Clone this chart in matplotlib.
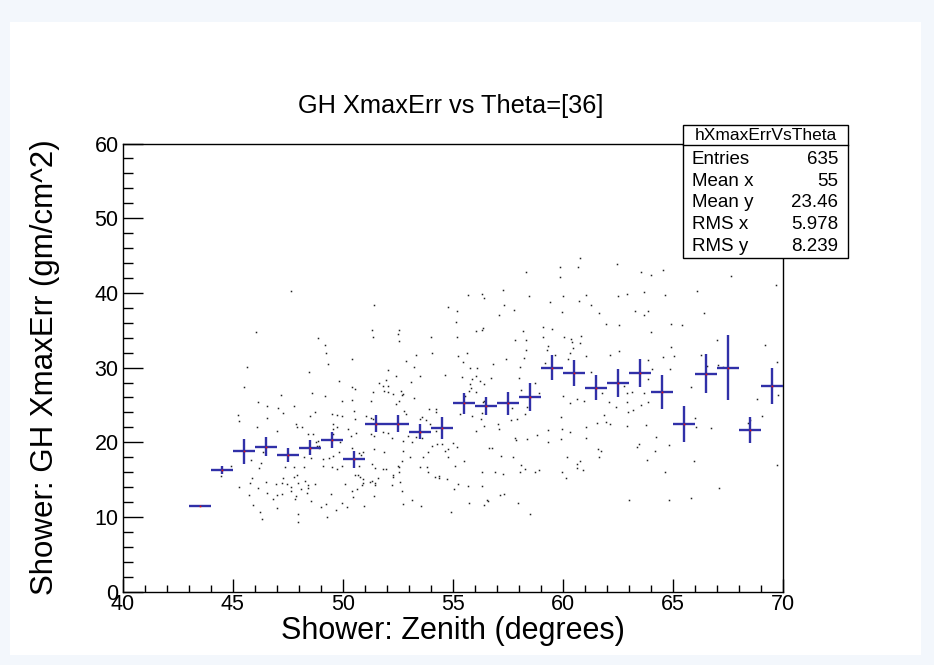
import matplotlib
matplotlib.use("Agg")
import matplotlib.pyplot as plt
from matplotlib.patches import Rectangle
from matplotlib.lines import Line2D
from matplotlib.ticker import MultipleLocator

plt.rcParams['font.family'] = ['Liberation Sans', 'DejaVu Sans']

# ---------------- data ----------------
title = "GH XmaxErr vs Theta=[36]"
xlabel = "Shower: Zenith (degrees)"
ylabel = "Shower: GH XmaxErr (gm/cm^2)"

prof_x = [43.5, 44.5, 45.5, 46.5, 47.5, 48.5, 49.5, 50.5, 51.5, 52.5, 53.5, 54.5, 55.5, 56.5,
          57.5, 58.5, 59.5, 60.5, 61.5, 62.5, 63.5, 64.5, 65.5, 66.5, 67.5, 68.5, 69.5]
prof_y = [11.5, 16.3, 18.8, 19.4, 18.3, 19.25, 20.3, 17.7, 22.5, 22.5, 21.4, 21.9, 25.2, 24.8,
          25.2, 26.1, 30.0, 29.3, 27.3, 27.9, 29.25, 26.7, 22.5, 29.2, 30.0, 21.65, 27.5]
prof_err = [0.0, 0.5, 1.7, 1.3, 1.0, 1.0, 1.1, 1.15, 1.1, 1.1, 1.0, 1.5, 1.4, 1.2,
            1.55, 1.9, 1.7, 1.7, 1.7, 1.9, 1.9, 2.3, 2.4, 2.6, 4.4, 1.8, 2.4]
bin_half_width = 0.5

scatter_x = [
    47.65, 51.42, 46.04, 51.31, 52.56, 51.36, 52.5, 52.57, 48.87, 49.18, 49.24, 50.4, 49.34,
    45.63, 48.46, 52.04, 52.43, 49.84, 51.63, 51.96, 45.53, 50.4, 50.56, 51.81, 52.04,
    51.36, 51.89, 52.07, 52.27, 47.19, 48.59, 49.19, 52.57, 46.13, 49.95, 50.43, 51.27, 52.4,
    46.54, 47.06, 47.77, 47.3, 48.72, 48.53, 45.22, 49.5, 49.72, 49.98, 50.51, 51.04, 51.28,
    51.39, 50.56, 45.27, 46.56, 47.89, 49.54, 47.9, 48.13, 49.75, 46.1, 49.57, 50.22, 51.81,
    47.03, 48.43, 48.63, 49.54, 50.6, 51.27, 51.42, 52.04, 52.22, 48.78, 48.89, 50.39, 49.87,
    48.81, 48.92, 48.9, 46.39, 50.42, 50.72, 50.81, 50.93, 49.81, 49.57, 49.39, 49.12, 48.54,
    48.24, 51.42, 51.87, 46.3, 45.83, 44.9, 46.19, 47.37, 47.78, 48.22, 49.12, 49.51, 49.74,
    49.99, 50.74, 51.33, 51.46, 51.83, 51.99, 52.53, 52.57, 52.3, 44.46, 47.9, 47.77, 50.56,
    50.68, 50.77, 50.92, 50.92, 50.89, 51.24, 51.34, 51.62, 52.27, 52.6, 47.3, 45.89, 45.77,
    46.51, 46.95, 47.22, 47.45, 47.99, 47.65, 48.28, 48.4, 48.72, 48.43, 48.12, 47.65, 50.12,
    51.46, 51.49, 52.22, 45.27, 46.13, 46.56, 47.03, 47.22, 47.86, 48.36, 49.45, 50.43, 50.63,
    51.42, 45.74, 46.84, 47.81, 48.54, 49.24, 49.98, 50.49, 50.2, 50.96, 45.9, 46.24, 47.01,
    47.95, 49.0, 49.68, 49.27, 46.33, 47.99,
    60.79, 59.86, 60.68, 58.35, 59.86, 55.7, 56.32, 56.41, 57.27, 58.46, 60.03, 61.05, 59.41,
    60.74, 61.3, 54.79, 57.33, 57.79, 55.18, 59.97, 57.12, 55.14, 54.02, 55.18, 56.05, 56.32,
    56.38, 58.18, 59.09, 59.5, 57.83, 58.33, 59.09, 60.08, 60.38, 60.83, 60.43, 60.79, 59.32,
    59.27, 60.47, 58.33, 59.67, 60.32, 61.06, 60.23, 54.08, 53.32, 55.65, 55.24, 52.86, 57.43,
    58.24, 53.26, 55.46, 56.82, 55.8, 56.09, 58.05, 59.18, 61.3, 53.52, 54.64, 55.41, 55.86,
    56.06, 56.73, 58.02, 56.23, 53.11, 55.79, 56.41, 58.74, 55.85, 58.09,
    52.65, 52.71, 52.74, 53.26, 56.05, 55.74, 56.38, 56.44, 52.8, 52.86, 53.93, 54.26, 53.62,
    53.53, 53.79, 54.24, 53.96, 55.55, 58.93, 60.03, 60.65, 60.96, 60.32, 57.68, 58.38, 58.29,
    55.86, 56.29, 55.35, 56.32, 57.94, 57.64, 57.08, 56.44, 57.11, 59.93, 61.06, 59.32, 59.96,
    60.33, 56.08, 54.23, 52.96, 53.35, 53.62, 52.76, 53.14, 58.83, 58.36, 57.83, 57.89, 59.93,
    61.08, 59.32, 54.08, 54.29, 54.5, 55.0, 55.2, 54.77, 54.64, 56.67, 56.77, 53.86, 53.67,
    52.74, 53.06, 54.79, 57.2, 57.74, 52.68, 55.5, 53.5, 53.82, 55.11, 58.11, 58.3, 58.93,
    58.74, 58.05, 56.93, 57.27, 56.32, 53.86, 52.56, 59.96, 60.18, 60.79, 60.65, 60.65, 60.9,
    60.14, 54.2, 54.36, 54.38, 54.74, 55.24, 55.7, 56.32, 55.06, 52.68, 57.35, 57.14, 53.17,
    52.73, 53.56, 55.74, 56.56, 56.62, 56.41, 57.99, 54.93, 58.5,
    62.47, 63.54, 64.0, 64.54, 67.65, 69.69, 66.12, 62.91, 62.51, 63.69, 64.65, 61.65, 63.29,
    63.89, 63.69, 66.44, 61.97, 62.56, 64.91, 65.42, 64.0, 67.0, 69.18, 64.91, 62.56, 62.16,
    64.54, 65.04, 63.89, 66.29, 69.74, 66.54, 67.04, 67.3, 64.04, 64.86, 63.86, 65.82, 62.79,
    61.8, 63.13, 62.91, 63.68, 62.1, 62.42, 62.91, 63.54, 63.88, 62.97, 63.18, 61.86, 61.56,
    61.95, 62.15, 62.91, 63.79, 64.24, 66.01, 66.07, 66.74, 68.82, 69.07, 69.77, 68.41, 68.51,
    64.85, 63.47, 63.38, 61.59, 61.74, 61.65, 64.19, 63.83, 65.97, 64.63, 69.74, 67.09, 63.01,
    64.85, 65.82,
]
scatter_y = [
    40.27, 38.36, 34.76, 35.07, 35.07, 34.14, 34.45, 33.56, 34.0, 33.07, 31.92, 31.2, 30.54,
    30.14, 29.38, 29.69, 28.94, 28.18, 28.0, 28.36, 27.34, 27.34, 27.16, 27.56, 27.56,
    26.76, 26.85, 26.67, 26.4, 26.27, 26.58, 26.14, 25.56, 25.34, 25.52, 25.65, 25.52, 25.12,
    24.89, 24.63, 24.8, 23.87, 24.0, 23.56, 23.69, 23.83, 23.69, 23.56, 24.14, 23.47, 23.25,
    23.12, 23.12, 22.85, 23.25, 22.49, 22.49, 22.05, 22.05, 22.05, 22.05, 21.78, 21.78, 21.34,
    21.47, 21.16, 21.16, 21.16, 21.29, 21.07, 20.8, 21.2, 20.58, 20.09, 20.14, 20.89, 20.0,
    19.56, 19.56, 19.25, 18.76, 19.2, 18.58, 18.32, 18.67, 18.72, 18.14, 17.92, 17.78, 17.96,
    18.09, 19.12, 18.67, 17.29, 17.6, 16.8, 16.58, 16.72, 16.67, 16.72, 16.8, 16.67, 16.36,
    16.8, 16.8, 17.16, 16.58, 16.36, 16.4, 16.89, 16.67, 15.56, 15.47, 15.65, 15.29, 15.65,
    15.56, 15.34, 15.03, 14.54, 14.32, 14.67, 14.76, 15.16, 15.34, 14.67, 15.16, 15.2, 14.58,
    14.67, 14.45, 14.58, 14.45, 14.49, 14.0, 14.76, 14.32, 14.45, 13.87, 13.74, 13.43, 14.45,
    14.58, 14.23, 14.23, 14.0, 13.87, 13.25, 12.89, 13.12, 12.76, 13.25, 13.12, 13.52, 13.69,
    12.85, 12.98, 12.36, 12.36, 12.09, 11.78, 11.92, 12.67, 11.34, 11.47, 11.65, 10.67, 11.2,
    10.45, 11.34, 10.98, 10.05, 9.78, 9.38,
    44.63, 43.43, 43.43, 42.8, 42.09, 39.69, 39.83, 39.34, 40.36, 39.52, 39.52, 39.69, 38.76,
    38.94, 38.36, 38.14, 38.36, 37.69, 37.56, 37.43, 36.98, 36.09, 34.14, 34.14, 34.89, 35.07,
    35.34, 34.89, 35.43, 35.2, 33.69, 33.69, 34.14, 34.14, 33.83, 34.27, 33.38, 33.25, 32.94,
    32.36, 32.67, 32.36, 31.69, 31.92, 31.6, 31.16, 31.92, 31.74, 31.92, 31.6, 30.89, 31.16,
    31.34, 30.09, 30.72, 30.54, 29.96, 29.96, 30.09, 30.58, 29.38, 28.94, 29.07, 28.8, 28.49,
    28.94, 28.63, 28.63, 28.18, 28.05, 27.74, 27.74, 28.0, 27.29, 27.03,
    26.85, 26.32, 26.4, 25.92, 26.67, 26.85, 25.43, 25.52, 24.14, 23.83, 24.45, 24.45, 23.38,
    23.07, 22.98, 24.0, 22.49, 26.18, 26.58, 26.14, 25.78, 25.52, 25.2, 24.63, 24.76, 23.83,
    23.56, 23.07, 23.74, 23.96, 23.07, 22.98, 22.4, 22.23, 21.78, 23.43, 22.05, 21.6, 21.78,
    21.34, 21.47, 21.52, 20.89, 20.67, 20.54, 20.14, 20.09, 21.03, 20.4, 20.58, 20.36, 20.4,
    20.58, 20.0, 19.52, 19.83, 19.83, 19.96, 19.34, 19.16, 18.85, 19.25, 19.25, 18.76, 18.05,
    18.8, 18.05, 18.05, 18.18, 18.0, 17.56, 17.43, 16.72, 16.72, 16.8, 16.98, 16.4, 16.23,
    16.09, 16.09, 16.09, 15.78, 15.96, 16.09, 15.96, 15.96, 18.05, 17.43, 17.07, 16.54, 16.23,
    15.16, 15.38, 15.52, 15.2, 15.03, 14.45, 14.14, 14.14, 13.74, 13.43, 13.07, 12.98, 12.23,
    11.78, 11.47, 11.92, 12.23, 12.09, 11.65, 11.92, 10.72, 10.41,
    43.83, 42.8, 42.36, 43.07, 42.23, 41.07, 40.23, 39.83, 39.52, 40.09, 39.69, 37.29, 37.56,
    37.56, 36.98, 37.29, 35.83, 35.65, 35.78, 35.65, 34.8, 33.69, 33.07, 32.8, 32.23, 31.74,
    31.43, 31.6, 31.03, 31.74, 30.72, 30.23, 30.36, 30.05, 29.87, 29.83, 28.49, 27.43, 27.56,
    26.58, 26.72, 26.54, 26.54, 25.34, 24.76, 25.34, 25.03, 25.34, 24.0, 24.27, 23.69, 22.54,
    22.67, 22.49, 22.23, 22.36, 20.72, 23.25, 22.05, 21.92, 25.78, 23.56, 26.36, 22.54, 22.98,
    19.69, 19.83, 19.38, 19.12, 18.8, 18.05, 18.8, 17.6, 17.43, 15.96, 16.98, 13.87, 12.23,
    12.23, 12.54,
]

stats_name = "hXmaxErrVsTheta"
stats_labels = ["Entries", "Mean x", "Mean y", "RMS x", "RMS y"]
stats_values = ["635", "55", "23.46", "5.978", "8.239"]

x_range = (40, 70)
y_range = (0, 60)

# ---------------- figure ----------------
W, H = 934, 665
fig = plt.figure(figsize=(W / 100, H / 100), dpi=100)
fig.patch.set_facecolor('#f3f7fc')


def fx(px):
    return px / W


def fy(py):
    return 1 - py / H


# white canvas
fig.add_artist(Rectangle((fx(10), fy(655)), fx(921) - fx(10), fy(22) - fy(655),
                         transform=fig.transFigure, facecolor='white', edgecolor='none', zorder=0))

left, right, top, bottom = 122.7, 782.7, 143.5, 591.7
ax = fig.add_axes([fx(left), fy(bottom), fx(right) - fx(left), fy(top) - fy(bottom)])
ax.set_facecolor('white')
ax.set_xlim(*x_range)
ax.set_ylim(*y_range)

n = min(len(scatter_x), len(scatter_y))
ax.plot(scatter_x[:n], scatter_y[:n], ls='none', marker='s', ms=1.1, mew=0,
        color='#222222', zorder=2)

ax.errorbar(prof_x, prof_y, xerr=bin_half_width, yerr=prof_err, fmt='none',
            ecolor='#3030a8', elinewidth=1.7, capsize=0, zorder=3)
ax.plot(prof_x, prof_y, ls='none', marker='s', ms=1.2, mew=0, color='#e01010', zorder=4)

for s in ax.spines.values():
    s.set_linewidth(1.0)
    s.set_color('black')

ax.xaxis.set_major_locator(MultipleLocator(5))
ax.xaxis.set_minor_locator(MultipleLocator(1))
ax.yaxis.set_major_locator(MultipleLocator(10))
ax.yaxis.set_minor_locator(MultipleLocator(2))
ax.tick_params(axis='x', which='major', direction='in', length=9.5, width=1, labelsize=15.5, pad=2)
ax.tick_params(axis='x', which='minor', direction='in', length=5, width=1)
ax.tick_params(axis='y', which='major', direction='in', length=14.5, width=1, labelsize=15.5, pad=3)
ax.tick_params(axis='y', which='minor', direction='in', length=7.5, width=1)
ax.tick_params(top=False, right=False, which='both')

ax.set_xlabel(xlabel, fontsize=22, labelpad=0.5)
ax.set_ylabel(ylabel, fontsize=22.5, labelpad=25)

fig.text(fx(451), fy(106), title, fontsize=18.3, ha='center', va='center')

# stats box
bx0, bx1, by0, by1 = 683.3, 848.3, 125.5, 258.5
fig.add_artist(Rectangle((fx(bx0), fy(by1)), fx(bx1) - fx(bx0), fy(by0) - fy(by1),
                         transform=fig.transFigure, facecolor='white', edgecolor='black',
                         linewidth=1.0, zorder=10))
fig.add_artist(Line2D([fx(bx0), fx(bx1)], [fy(145), fy(145)], transform=fig.transFigure,
                      color='black', linewidth=1.0, zorder=11))
fig.text(fx((bx0 + bx1) / 2), fy(135.5), stats_name, fontsize=12.5, ha='center', va='center',
         zorder=12)
row_y = [159.3, 181.0, 202.7, 224.5, 246.2]
for lab, val, yy in zip(stats_labels, stats_values, row_y):
    fig.text(fx(691.5), fy(yy), lab, fontsize=13.5, ha='left', va='center', zorder=12)
    fig.text(fx(838.5), fy(yy), val, fontsize=13.5, ha='right', va='center', zorder=12)

fig.savefig('out.png', dpi=100, facecolor=fig.get_facecolor())
